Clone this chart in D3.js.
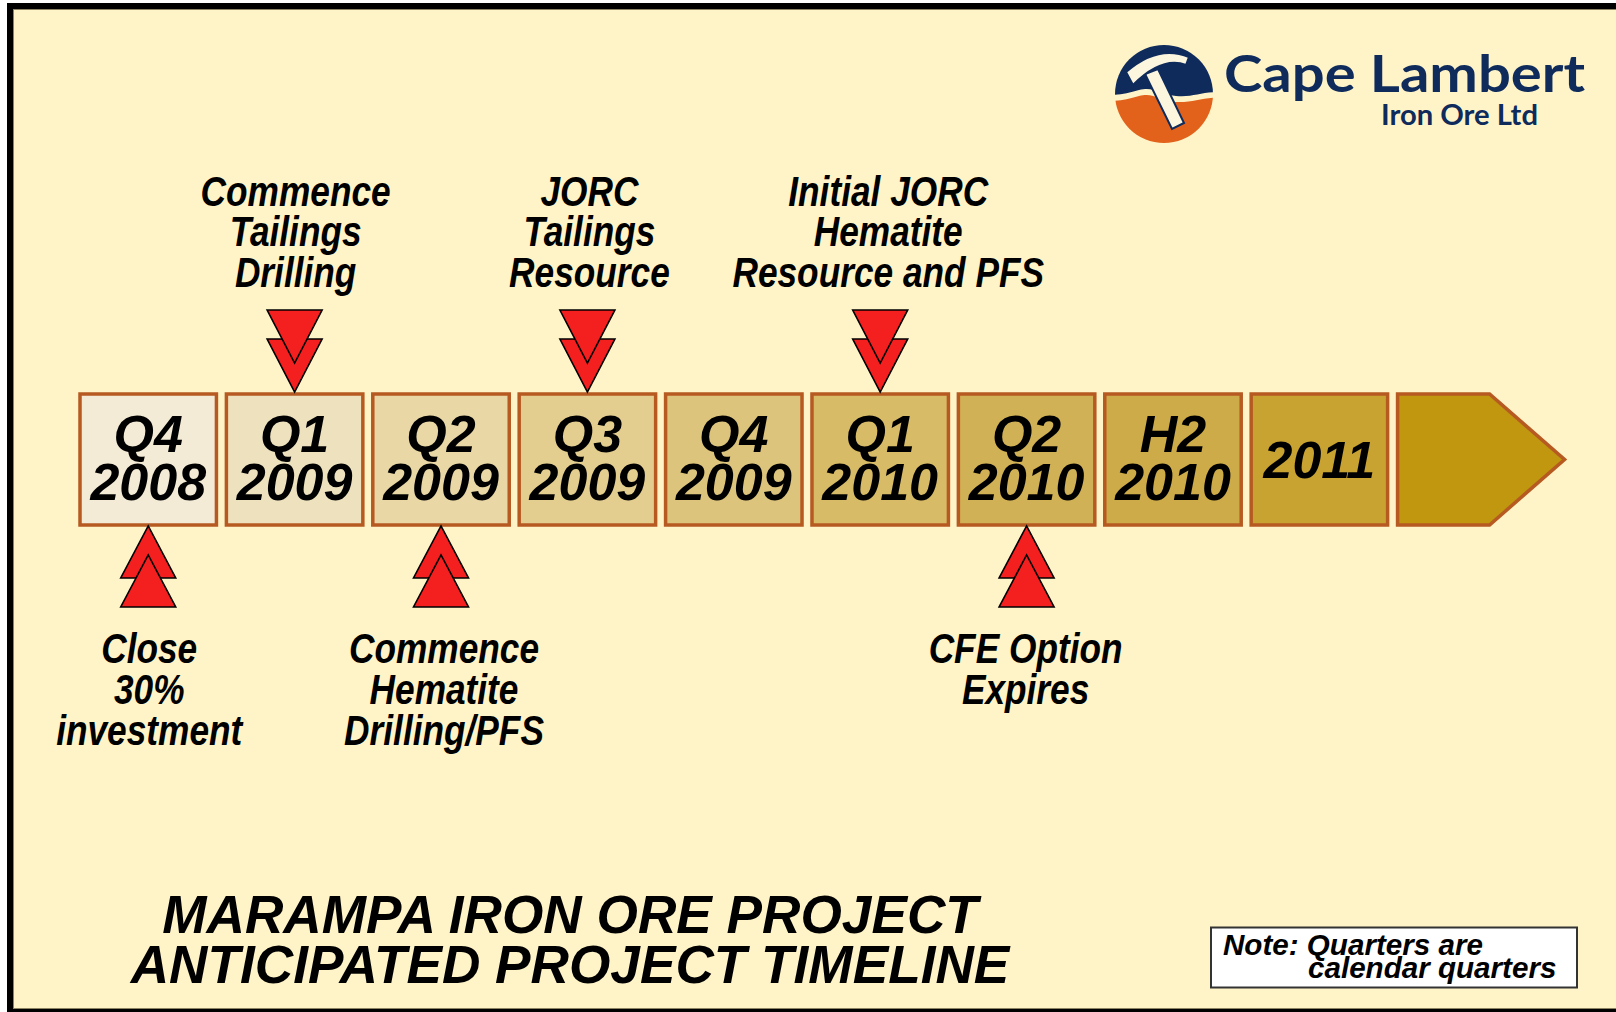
<!DOCTYPE html>
<html>
<head>
<meta charset="utf-8">
<script src="https://cdn.jsdelivr.net/npm/d3@7"></script>
<style>
  body { margin: 0; background: #fff; }
  svg { display: block; }
</style>
</head>
<body>
<div id="chart"></div>
<script>
// timeline periods (one entry per box, last one is the open arrow)
const periodLines = [["Q4", "2008"], ["Q1", "2009"], ["Q2", "2009"], ["Q3", "2009"], ["Q4", "2009"],
                     ["Q1", "2010"], ["Q2", "2010"], ["H2", "2010"], ["2011"], []];
// milestones above the timeline (index into periods)
const aboveIdx = [1, 3, 5];
const aboveText = [["Commence", "Tailings", "Drilling"],
                   ["JORC", "Tailings", "Resource"],
                   ["Initial JORC", "Hematite", "Resource and PFS"]];
// milestones below the timeline
const belowIdx = [0, 2, 6];
const belowText = [["Close", "30%", "investment"],
                   ["Commence", "Hematite", "Drilling/PFS"],
                   ["CFE Option", "Expires"]];
const titleLines = ["MARAMPA IRON ORE PROJECT", "ANTICIPATED PROJECT TIMELINE"];
const noteLines = ["Note: Quarters are", "calendar quarters"];
const logoName = "Cape Lambert";
const logoSub = "Iron Ore Ltd";

// styles
const boxFills = ["#F3EBD5", "#EEE2BE", "#E9D8A6", "#E3CE90", "#DDC47C", "#D7BB67", "#D1B155", "#CDAB48", "#C8A331", "#C1970F"];
const boxStroke = "#B65A22";
const red = "#F41F1F";
const navy = "#0E2B5C";
const orange = "#E2621B";
const cream = "#FFF4C8";
const font = "'Liberation Sans', Arial, sans-serif";

const W = 1616, H = 1012;
const boxTop = 394, boxH = 131;

const svg = d3.select("#chart").append("svg")
    .attr("width", W)
    .attr("height", H);

// frame
svg.append("rect").attr("x", 0).attr("y", 0).attr("width", W).attr("height", H).attr("fill", "#fff");
svg.append("rect").attr("x", 7).attr("y", 3).attr("width", W).attr("height", H).attr("fill", "#000");
svg.append("rect").attr("x", 13.5).attr("y", 9.5).attr("width", W).attr("height", 999)
    .attr("fill", cream).attr("stroke", "#8d8466").attr("stroke-width", 1);

const x = d3.scaleBand()
    .domain(d3.range(periodLines.length))
    .range([80, 1534])
    .paddingInner(0.068)
    .paddingOuter(0);
const bw = x.bandwidth();
const cx = i => x(i) + bw / 2;

// boxes
const boxes = svg.append("g");
periodLines.forEach((lines, i) => {
    const x0 = x(i);
    if (i === periodLines.length - 1) {
        const mid = boxTop + boxH / 2;
        boxes.append("path")
            .attr("d", `M${x0},${boxTop} H${x0 + 92} L${x0 + 167},${mid} L${x0 + 92},${boxTop + boxH} H${x0} Z`)
            .attr("fill", boxFills[i])
            .attr("stroke", boxStroke)
            .attr("stroke-width", 3.5)
            .attr("stroke-linejoin", "miter");
        return;
    }
    boxes.append("rect")
        .attr("x", x0)
        .attr("y", boxTop)
        .attr("width", bw)
        .attr("height", boxH)
        .attr("fill", boxFills[i])
        .attr("stroke", boxStroke)
        .attr("stroke-width", 3.5);

    const base = lines.length === 2 ? [452, 500] : [478];
    lines.forEach((t, j) => {
        boxes.append("text")
            .attr("x", cx(i))
            .attr("y", base[j])
            .attr("text-anchor", "middle")
            .style("font-family", font)
            .style("font-weight", "bold")
            .style("font-style", "italic")
            .style("font-size", "52px")
            .attr("fill", "#000")
            .text(t);
    });
});

// red double arrows (the triangle farther from the box sits on top)
function tri(c, yBase, yApex) {
    return `M${c - 27.5},${yBase} L${c + 27.5},${yBase} L${c},${yApex} Z`;
}
const arrows = svg.append("g")
    .attr("fill", red)
    .attr("stroke", "#000")
    .attr("stroke-width", 1.6)
    .attr("stroke-linejoin", "miter");
aboveIdx.forEach(i => {
    arrows.append("path").attr("d", tri(cx(i), 339, 392));
    arrows.append("path").attr("d", tri(cx(i), 310, 363));
});
belowIdx.forEach(i => {
    arrows.append("path").attr("d", tri(cx(i), 578, 526));
    arrows.append("path").attr("d", tri(cx(i), 607, 555));
});

// milestone labels (narrow bold italic)
function label(lines, c, baselines) {
    lines.forEach((t, j) => {
        svg.append("g")
            .attr("transform", `translate(${c}, ${baselines[j]}) scale(0.82, 1)`)
            .append("text")
            .attr("x", 0)
            .attr("y", 0)
            .attr("text-anchor", "middle")
            .style("font-family", font)
            .style("font-weight", "bold")
            .style("font-style", "italic")
            .style("font-size", "43px")
            .attr("fill", "#000")
            .text(t);
    });
}
const aboveShift = [1, 2, 8];
const belowShift = [1, 3, -1];
aboveIdx.forEach((i, k) => label(aboveText[k], cx(i) + aboveShift[k], [206, 246, 287]));
belowIdx.forEach((i, k) => label(belowText[k], cx(i) + belowShift[k], [663, 704, 745]));

// title
titleLines.forEach((t, j) => {
    svg.append("text")
        .attr("x", 570)
        .attr("y", [933, 983][j])
        .attr("text-anchor", "middle")
        .style("font-family", font)
        .style("font-weight", "bold")
        .style("font-style", "italic")
        .style("font-size", "53.2px")
        .attr("fill", "#000")
        .text(t);
});

// note box
svg.append("rect")
    .attr("x", 1211)
    .attr("y", 927.5)
    .attr("width", 366)
    .attr("height", 60)
    .attr("fill", "#fff")
    .attr("stroke", "#333")
    .attr("stroke-width", 2);
noteLines.forEach((t, j) => {
    svg.append("text")
        .attr("x", [1223, 1308][j])
        .attr("y", [955, 978][j])
        .style("font-family", font)
        .style("font-weight", "bold")
        .style("font-style", "italic")
        .style("font-size", "29.6px")
        .attr("fill", "#000")
        .text(t);
});

// logo
const defs = svg.append("defs");
defs.append("clipPath").attr("id", "logoClip")
    .append("circle").attr("r", 49);
const logo = svg.append("g").attr("transform", "translate(1164, 94)");
const lg = logo.append("g").attr("clip-path", "url(#logoClip)");
lg.append("rect").attr("x", -60).attr("y", -60).attr("width", 120).attr("height", 120).attr("fill", cream);
lg.append("path")
    .attr("d", "M-60,-60 H60 V-1 C40,-4 30,4 12,2 C-5,0 -10,-8 -25,-4 C-38,0 -48,2 -60,0 Z")
    .attr("fill", navy);
lg.append("path")
    .attr("d", "M-60,6 C-48,8 -38,6 -25,2 C-10,-2 -5,7 12,8 C30,9 40,2 60,4 V60 H-60 Z")
    .attr("fill", orange);
// pick handle + head
logo.append("path")
    .attr("d", "M-19,-20 L-6,-25 L20,29 L8,35 Z")
    .attr("fill", "#FDF6DF")
    .attr("stroke", navy)
    .attr("stroke-width", 2);
logo.append("path")
    .attr("d", "M-38,-22 Q-6,-50 25,-37 L22,-29 Q-2,-38 -31,-9 Z")
    .attr("fill", "#FDF6DF")
    .attr("stroke", navy)
    .attr("stroke-width", 2);

svg.append("text")
    .attr("x", 1224)
    .attr("y", 92)
    .attr("textLength", 361)
    .attr("lengthAdjust", "spacingAndGlyphs")
    .style("font-family", "Lato, 'Noto Sans', sans-serif")
    .style("font-weight", "bold")
    .style("font-size", "52px")
    .attr("fill", navy)
    .text(logoName);
svg.append("text")
    .attr("x", 1381)
    .attr("y", 125)
    .attr("textLength", 157)
    .attr("lengthAdjust", "spacingAndGlyphs")
    .style("font-family", "Lato, 'Noto Sans', sans-serif")
    .style("font-weight", "bold")
    .style("font-size", "29px")
    .attr("fill", navy)
    .text(logoSub);
</script>
</body>
</html>
